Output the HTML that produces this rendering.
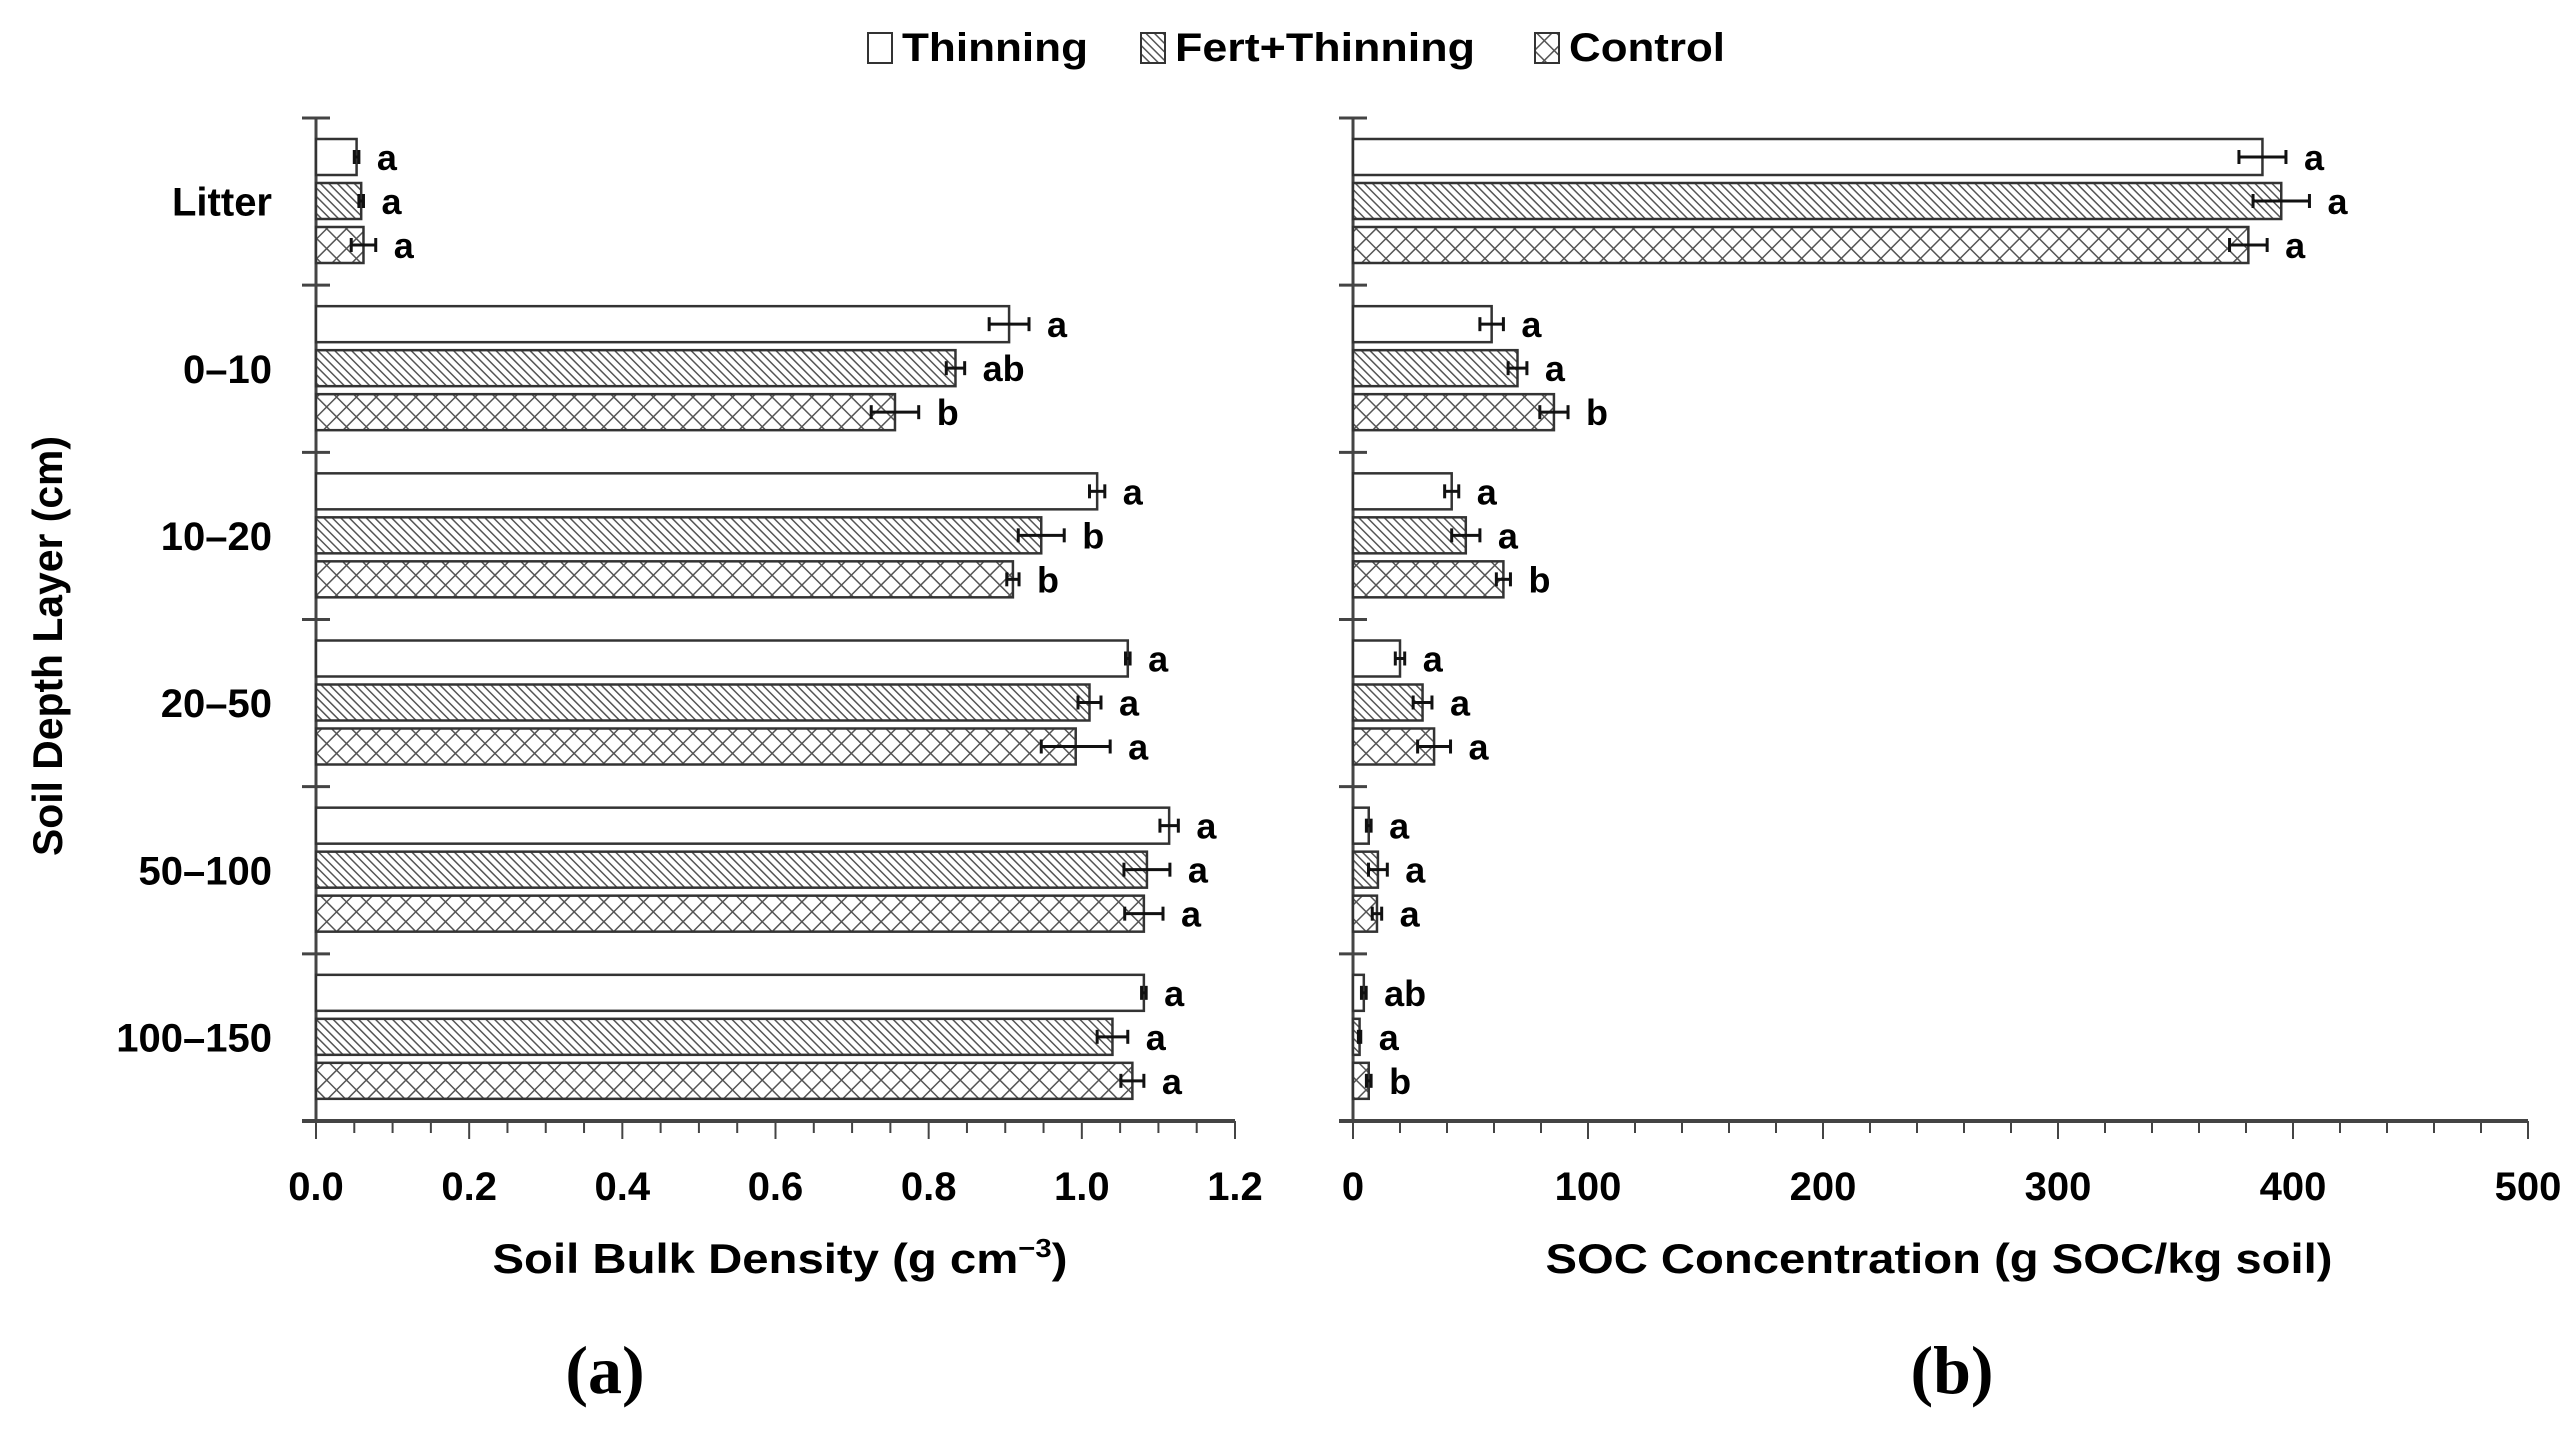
<!DOCTYPE html>
<html><head><meta charset="utf-8"><style>
html,body{margin:0;padding:0;background:#fff;}
svg{display:block;font-family:"Liberation Sans",sans-serif;font-weight:bold;}
</style></head><body>
<svg id="chart" width="2574" height="1437" viewBox="0 0 2574 1437" xmlns="http://www.w3.org/2000/svg">
<defs>
<pattern id="hatch" patternUnits="userSpaceOnUse" width="6" height="6" patternTransform="rotate(-45)">
<rect width="6" height="6" fill="#fff"/><line x1="0" y1="0" x2="0" y2="6" stroke="#555" stroke-width="3"/>
</pattern>
<pattern id="cross" patternUnits="userSpaceOnUse" width="14" height="14" patternTransform="rotate(45)">
<rect width="14" height="14" fill="#fff"/><line x1="0" y1="0" x2="0" y2="14" stroke="#555" stroke-width="3"/><line x1="0" y1="0" x2="14" y2="0" stroke="#555" stroke-width="3"/>
</pattern>
</defs>
<g>
<g><rect x="868" y="33" width="24" height="30" fill="#fff" stroke="#333" stroke-width="2"/><text x="902" y="61" font-size="40" textLength="186" lengthAdjust="spacingAndGlyphs">Thinning</text></g>
<g><rect x="1141" y="33" width="24" height="30" fill="url(#hatch)" stroke="#333" stroke-width="2"/><text x="1175" y="61" font-size="40" textLength="300" lengthAdjust="spacingAndGlyphs">Fert+Thinning</text></g>
<g><rect x="1535" y="33" width="24" height="30" fill="url(#cross)" stroke="#333" stroke-width="2"/><text x="1569" y="61" font-size="40" textLength="156" lengthAdjust="spacingAndGlyphs">Control</text></g>
</g>
<text transform="translate(62,646) rotate(-90)" text-anchor="middle" font-size="42" textLength="420" lengthAdjust="spacingAndGlyphs">Soil Depth Layer (cm)</text>
<text x="780" y="1273" text-anchor="middle" font-size="42" textLength="575" lengthAdjust="spacingAndGlyphs">Soil Bulk Density (g cm<tspan font-size="26" dy="-16">−3</tspan><tspan dy="16">)</tspan></text>
<text x="1939" y="1273" text-anchor="middle" font-size="42" textLength="787" lengthAdjust="spacingAndGlyphs">SOC Concentration (g SOC/kg soil)</text>
<text x="605" y="1393" text-anchor="middle" font-size="68" style="font-family:'Liberation Serif',serif">(a)</text>
<text x="1952" y="1393" text-anchor="middle" font-size="68" style="font-family:'Liberation Serif',serif">(b)</text>
<g id="plots"></g>
</svg>
<script>
const categories = ["Litter","0–10","10–20","20–50","50–100","100–150"];
const series = ["Thinning","Fert+Thinning","Control"];
const bdThin = [0.053,0.905,1.02,1.06,1.114,1.081];
const bdFert = [0.059,0.835,0.947,1.01,1.085,1.04];
const bdCtrl = [0.062,0.756,0.91,0.992,1.081,1.066];
const bdThinErr = [0.003,0.026,0.01,0.003,0.012,0.003];
const bdFertErr = [0.003,0.012,0.03,0.015,0.03,0.02];
const bdCtrlErr = [0.016,0.031,0.008,0.045,0.025,0.015];
const bdThinLet = ["a","a","a","a","a","a"];
const bdFertLet = ["a","ab","b","a","a","a"];
const bdCtrlLet = ["a","b","b","a","a","a"];
const socThin = [387,59,42,20,6.7,4.6];
const socFert = [395,70,48,29.6,10.6,2.8];
const socCtrl = [381,85.5,64,34.5,10.2,6.7];
const socThinErr = [10,5,3,2,1,1];
const socFertErr = [12,4,6,4,4,0.5];
const socCtrlErr = [8,6,3,7,2,1];
const socThinLet = ["a","a","a","a","a","ab"];
const socFertLet = ["a","a","a","a","a","a"];
const socCtrlLet = ["a","b","b","a","a","b"];
const bdTicks = ["0.0","0.2","0.4","0.6","0.8","1.0","1.2"];
const socTicks = ["0","100","200","300","400","500"];

const NS="http://www.w3.org/2000/svg";
const root=document.getElementById('plots');
function mk(tag,attrs,parent){const e=document.createElementNS(NS,tag);for(const k in attrs)e.setAttribute(k,attrs[k]);(parent||root).appendChild(e);return e;}
const yTop=118, yBot=1121, nCat=categories.length, band=(yBot-yTop)/nCat;
function yBand(i){return yTop+i*band;}
const fills=["#fff","url(#hatch)","url(#cross)"];

function panel(cfg){
  const g=mk('g',{});
  
  
  const sx=v=>cfg.x0+(v-cfg.min)/(cfg.max-cfg.min)*(cfg.x1-cfg.x0);
  const ya=mk('line',{x1:cfg.x0,y1:yTop,x2:cfg.x0,y2:yBot,stroke:'#444','stroke-width':3},g);
  
  
  for(let i=0;i<=nCat;i++){mk('line',{x1:cfg.x0-14,y1:yBand(i),x2:cfg.x0+14,y2:yBand(i),stroke:'#444','stroke-width':3},g);}
  const xa=mk('line',{x1:cfg.x0-14,y1:yBot,x2:cfg.x1,y2:yBot,stroke:'#444','stroke-width':4},g);
  
  
  const nMinor=cfg.minorN;
  for(let k=0;k<=nMinor;k++){
    const v=cfg.min+k*(cfg.max-cfg.min)/nMinor;
    const major=k%cfg.majorEvery===0;
    mk('line',{x1:sx(v),y1:yBot,x2:sx(v),y2:yBot+(major?18:12),stroke:'#444','stroke-width':2},g);
  }
  cfg.ticks.forEach((t,k)=>{
    const v=cfg.min+k*(cfg.max-cfg.min)/(cfg.ticks.length-1);
    const tx=mk('text',{x:sx(v),y:1200,'text-anchor':'middle','font-size':40},g);
    
    
    tx.textContent=t;
  });
  const data=[cfg.vals[0],cfg.vals[1],cfg.vals[2]];
  for(let i=0;i<nCat;i++){
    if(cfg.catLabels){
      const cl=mk('text',{x:272,y:yBand(i)+band/2+14,'text-anchor':'end','font-size':40},g);
      
      
      cl.textContent=categories[i];
    }
    for(let s=0;s<3;s++){
      const v=data[s][i], e=cfg.errs[s][i];
      const y=yBand(i)+21+s*44, h=36;
      const b=mk('rect',{x:cfg.x0,y:y,width:Math.max(sx(v)-cfg.x0,1),height:h,fill:fills[s],stroke:'#333','stroke-width':2.5},g);
      
      
      const cy=y+h/2, xl=sx(v-e), xr=sx(v+e);
      mk('line',{x1:xl,y1:cy,x2:xr,y2:cy,stroke:'#111','stroke-width':3},g);
      mk('line',{x1:xl,y1:cy-7,x2:xl,y2:cy+7,stroke:'#111','stroke-width':3},g);
      mk('line',{x1:xr,y1:cy-7,x2:xr,y2:cy+7,stroke:'#111','stroke-width':3},g);
      const lt=mk('text',{x:xr+18,y:cy+13,'font-size':36},g);
      
      
      lt.textContent=cfg.lets[s][i];
    }
  }
}
panel({name:'panel-a-bulk-density',x0:316,x1:1235,min:0,max:1.2,ticks:bdTicks,minorN:24,majorEvery:4,
  vals:[bdThin,bdFert,bdCtrl],errs:[bdThinErr,bdFertErr,bdCtrlErr],lets:[bdThinLet,bdFertLet,bdCtrlLet],catLabels:true});
panel({name:'panel-b-soc',x0:1353,x1:2528,min:0,max:500,ticks:socTicks,minorN:25,majorEvery:5,
  vals:[socThin,socFert,socCtrl],errs:[socThinErr,socFertErr,socCtrlErr],lets:[socThinLet,socFertLet,socCtrlLet],catLabels:false});
</script>
</body></html>
